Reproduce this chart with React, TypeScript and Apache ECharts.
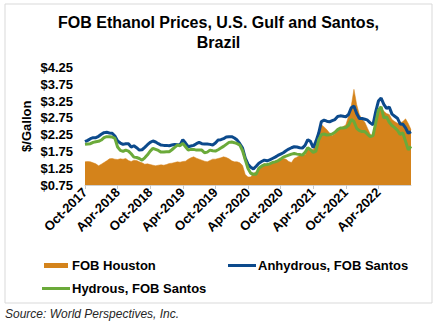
import React, { useEffect, useRef } from "react";
import * as echarts from "echarts";

const MONTH_NAMES = ["Jan", "Feb", "Mar", "Apr", "May", "Jun", "Jul", "Aug", "Sep", "Oct", "Nov", "Dec"];

// semi-monthly dates, 1 Oct 2017 .. 1 Oct 2022
const categories: string[] = [];
for (let k = 0; k <= 120; k++) {
  const m = 9 + Math.floor(k / 2);
  const y = 2017 + Math.floor(m / 12);
  const mm = m % 12;
  categories.push(`${y}-${String(mm + 1).padStart(2, "0")}-${k % 2 === 0 ? "01" : "15"}`);
}

const fobHouston = [
  1.44, 1.45, 1.44, 1.41, 1.38, 1.32, 1.37, 1.42, 1.47, 1.53,
  1.54, 1.52, 1.51, 1.53, 1.52, 1.54, 1.48, 1.45, 1.49, 1.48,
  1.44, 1.41, 1.37, 1.38, 1.36, 1.34, 1.32, 1.34, 1.35, 1.34,
  1.36, 1.39, 1.40, 1.42, 1.44, 1.43, 1.45, 1.46, 1.52, 1.56,
  1.59, 1.55, 1.52, 1.49, 1.46, 1.44, 1.48, 1.52, 1.52, 1.54,
  1.56, 1.59, 1.57, 1.53, 1.47, 1.44, 1.44, 1.41, 1.33, 1.06,
  0.99, 0.99, 1.10, 1.14, 1.22, 1.33, 1.39, 1.36, 1.37, 1.43,
  1.46, 1.48, 1.51, 1.54, 1.52, 1.45, 1.42, 1.54, 1.58, 1.63,
  1.64, 1.64, 1.84, 1.83, 1.80, 2.03, 2.30, 2.55, 2.48, 2.40,
  2.30, 2.22, 2.28, 2.40, 2.44, 2.49, 2.54, 2.80, 3.10, 3.60,
  3.15, 2.85, 2.71, 2.62, 2.44, 2.26, 2.22, 2.73, 3.00, 3.05,
  2.95, 2.88, 2.85, 2.70, 2.64, 2.59, 2.60, 2.64, 2.72, 2.58,
  2.40,
];

const anhydrousSantos = [
  2.04, 2.08, 2.13, 2.16, 2.16, 2.20, 2.26, 2.31, 2.32, 2.30,
  2.29, 2.21, 2.06, 2.00, 1.96, 1.98, 1.98, 1.88, 1.92, 1.86,
  1.79, 1.80, 1.87, 1.95, 2.02, 2.06, 2.03, 1.98, 1.94, 1.93,
  1.93, 1.92, 1.94, 1.96, 1.95, 1.94, 2.10, 2.00, 1.89, 1.91,
  1.93, 1.98, 2.02, 1.98, 1.97, 1.97, 1.96, 1.94, 2.00, 2.09,
  2.10, 2.13, 2.18, 2.19, 2.19, 2.15, 2.09, 1.98, 1.85, 1.55,
  1.37, 1.28, 1.23, 1.31, 1.40, 1.45, 1.49, 1.47, 1.50, 1.54,
  1.58, 1.63, 1.67, 1.71, 1.77, 1.82, 1.86, 1.89, 1.88, 1.86,
  1.85, 1.93, 2.10, 2.05, 1.86, 2.05, 2.29, 2.64, 2.68, 2.65,
  2.63, 2.67, 2.70, 2.79, 2.81, 2.80, 2.78, 2.85, 3.05, 3.10,
  2.88, 2.73, 2.73, 2.71, 2.68, 2.60, 2.54, 2.93, 3.25, 3.34,
  3.15, 3.03, 3.07, 2.86, 2.80, 2.74, 2.57, 2.56, 2.45, 2.29,
  2.34,
];

const hydrousSantos = [
  1.96, 1.97, 1.98, 2.02, 2.04, 2.05, 2.09, 2.16, 2.19, 2.19,
  2.18, 2.14, 1.88, 1.78, 1.75, 1.79, 1.76, 1.68, 1.58, 1.57,
  1.54, 1.49, 1.56, 1.65, 1.76, 1.84, 1.81, 1.78, 1.73, 1.73,
  1.74, 1.74, 1.80, 1.87, 1.94, 1.92, 1.99, 1.89, 1.79, 1.81,
  1.81, 1.79, 1.79, 1.79, 1.71, 1.73, 1.79, 1.77, 1.76, 1.80,
  1.85, 1.90, 1.96, 2.02, 2.03, 2.01, 1.98, 1.94, 1.77, 1.50,
  1.24, 1.10, 1.07, 1.07, 1.25, 1.31, 1.35, 1.36, 1.38, 1.42,
  1.44, 1.47, 1.52, 1.58, 1.61, 1.64, 1.67, 1.69, 1.67, 1.66,
  1.64, 1.72, 1.86, 1.80, 1.72, 1.76, 2.09, 2.25, 2.27, 2.24,
  2.25, 2.27, 2.32, 2.40, 2.45, 2.45, 2.46, 2.53, 2.70, 2.64,
  2.44, 2.37, 2.34, 2.34, 2.26, 2.19, 2.22, 2.59, 2.98, 3.08,
  2.75, 2.78, 2.62, 2.52, 2.46, 2.38, 2.26, 2.30, 2.05, 1.80,
  1.90,
];

const FONT = "'Liberation Sans', Arial, sans-serif";
const ORANGE = "#D4831B";
const BLUE = "#0C4A8C";
const GREEN = "#6BAA3A";

export default function App() {
  const ref = useRef<HTMLDivElement>(null);

  useEffect(() => {
    if (!ref.current) return;
    const chart = echarts.init(ref.current, undefined, { renderer: "svg" });
    const showIdx = (index: number) => index % 12 === 0 && index < 120;
    chart.setOption({
      animation: false,
      backgroundColor: "#ffffff",
      textStyle: { fontFamily: FONT },
      title: {
        text: "FOB Ethanol Prices, U.S. Gulf and Santos,\nBrazil",
        left: "center",
        top: 7,
        textStyle: {
          fontFamily: FONT,
          fontSize: 16,
          fontWeight: "bold",
          color: "#000000",
          lineHeight: 20,
        },
      },
      grid: { left: 85, right: 26, top: 67.5, bottom: 137, containLabel: false },
      legend: [
        {
          data: ["FOB Houston"],
          left: 39,
          top: 254,
          icon: "rect",
          itemWidth: 24,
          itemHeight: 5,
          itemGap: 4,
          textStyle: { fontFamily: FONT, fontSize: 13, fontWeight: "bold", color: "#000", padding: [0, 0, 0, -1] },
        },
        {
          data: ["Anhydrous, FOB Santos"],
          left: 223,
          top: 254,
          icon: "rect",
          itemWidth: 28,
          itemHeight: 3,
          textStyle: { fontFamily: FONT, fontSize: 13, fontWeight: "bold", color: "#000", padding: [0, 0, 0, -3] },
        },
        {
          data: ["Hydrous, FOB Santos"],
          left: 37,
          top: 277,
          icon: "rect",
          itemWidth: 28,
          itemHeight: 3,
          textStyle: { fontFamily: FONT, fontSize: 13, fontWeight: "bold", color: "#000", padding: [0, 0, 0, -3] },
        },
      ],
      xAxis: {
        type: "category",
        data: categories,
        boundaryGap: false,
        axisLine: { show: true, lineStyle: { color: "#d0d0d0", width: 1 } },
        axisTick: { show: true, interval: (i: number) => showIdx(i), length: 4, lineStyle: { color: "#c8c8c8" } },
        axisLabel: {
          interval: (i: number) => showIdx(i),
          rotate: 45,
          margin: 5,
          fontFamily: FONT,
          fontSize: 13,
          fontWeight: "bold",
          color: "#000",
          formatter: (val: string) => {
            const parts = val.split("-");
            return `${MONTH_NAMES[Number(parts[1]) - 1]}-${parts[0]}`;
          },
        },
        splitLine: { show: false },
      },
      yAxis: {
        type: "value",
        min: 0.75,
        max: 4.25,
        interval: 0.25,
        name: "$/Gallon",
        nameLocation: "middle",
        nameRotate: 90,
        nameGap: 52,
        nameMoveOverlap: false,
        nameTextStyle: { fontFamily: FONT, fontSize: 13, fontWeight: "bold", color: "#000" },
        axisLine: { show: false },
        axisTick: { show: false },
        splitLine: { show: false },
        axisLabel: {
          margin: 12,
          fontFamily: FONT,
          fontSize: 13,
          fontWeight: "bold",
          color: "#000",
          formatter: (v: number) => {
            const k = Math.round((v - 0.75) / 0.25);
            return k % 2 === 0 ? "$" + v.toFixed(2) : "";
          },
        },
      },
      series: [
        {
          name: "FOB Houston",
          type: "line",
          data: fobHouston,
          showSymbol: false,
          symbol: "none",
          color: ORANGE,
          lineStyle: { width: 0.5, color: ORANGE },
          areaStyle: { color: ORANGE, opacity: 1 },
          z: 1,
        },
        {
          name: "Anhydrous, FOB Santos",
          type: "line",
          data: anhydrousSantos,
          showSymbol: false,
          symbol: "none",
          color: BLUE,
          lineStyle: { width: 3, color: BLUE },
          z: 2,
        },
        {
          name: "Hydrous, FOB Santos",
          type: "line",
          data: hydrousSantos,
          showSymbol: false,
          symbol: "none",
          color: GREEN,
          lineStyle: { width: 3, color: GREEN },
          z: 3,
        },
      ],
      graphic: [
        {
          type: "rect",
          shape: { x: 5, y: 4, width: 427, height: 299 },
          style: { fill: "none", stroke: "#d9d9d9", lineWidth: 1 },
          silent: true,
          z: -1,
        },
        {
          type: "text",
          x: 5,
          y: 314,
          style: {
            text: "Source: World Perspectives, Inc.",
            fontFamily: FONT,
            fontSize: 12,
            fontStyle: "italic",
            fill: "#262626",
            verticalAlign: "middle",
          },
        },
      ],
    });
    return () => chart.dispose();
  }, []);

  return (
    <div
      ref={ref}
      style={{ position: "fixed", left: 0, top: 0, width: 437, height: 322 }}
    />
  );
}
